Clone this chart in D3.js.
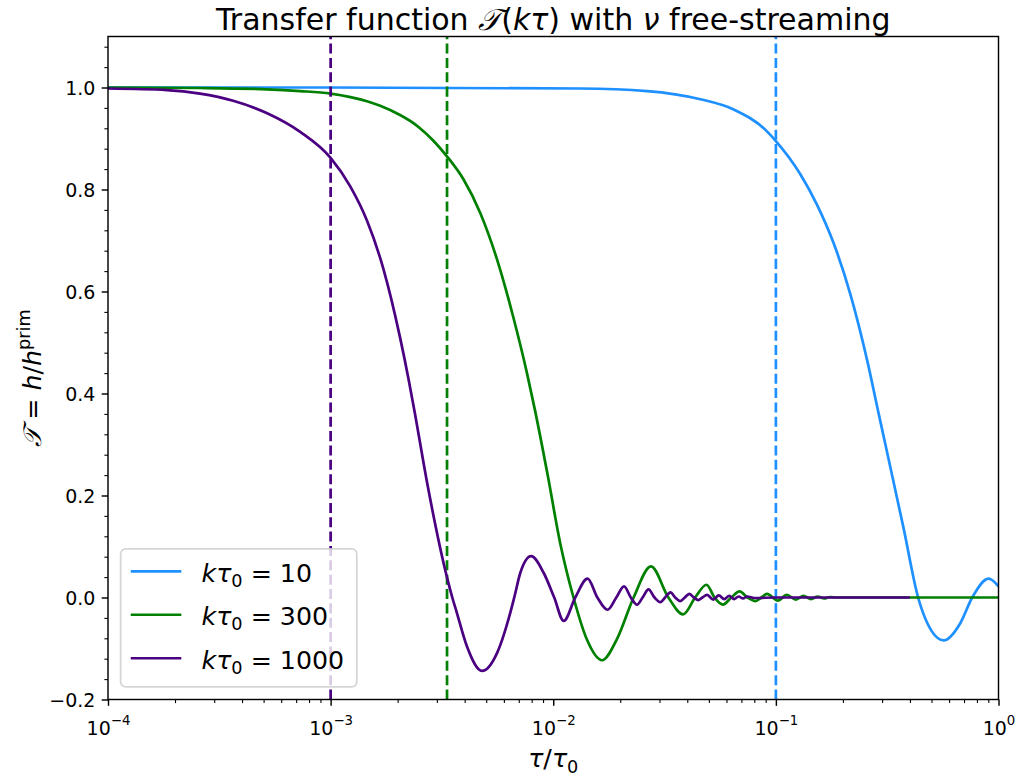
<!DOCTYPE html>
<html>
<head>
<meta charset="utf-8">
<script src="https://cdn.jsdelivr.net/npm/d3@7"></script>
<style>
  body { margin: 0; background: #fff; }
  svg { display: block; }
  text { font-family: "DejaVu Sans", sans-serif; fill: #000; }
</style>
</head>
<body>
<svg id="chart" width="1017" height="781"></svg>
<script>
// Wave numbers kτ0 of the three tensor modes and their colours
const kValues = [10, 300, 1000];
const seriesColors = ["#1e90ff", "#008000", "#4b0082"];

// kτ0 = 10 : conformal time τ/τ0 and transfer function T
const tau10 = [1e-4, 1e-3, 0.0132, 0.0264, 0.0458, 0.0646, 0.0912, 0.1, 0.1288, 0.1531,
  0.182, 0.2163, 0.2571, 0.2897, 0.3273, 0.375, 0.4355, 0.4786, 0.5675, 0.6745,
  0.7618, 0.9036, 1.0];
const T10 = [1.0, 1.0, 0.998, 0.993, 0.977, 0.957, 0.914, 0.895, 0.830, 0.770,
  0.694, 0.594, 0.465, 0.360, 0.254, 0.135, 0.0, -0.050, -0.084, -0.050,
  0.0, 0.037, 0.022];

// kτ0 = 300
const tau300 = [1e-4, 2.59e-4, 5.16e-4, 7.30e-4, 1.0e-3, 1.456e-3, 1.669e-3, 2.05e-3, 2.355e-3, 2.52e-3,
  2.888e-3, 3.33e-3, 3.95e-3, 4.70e-3, 5.59e-3, 6.63e-3, 7.62e-3, 8.30e-3, 9.44e-3, 1.074e-2,
  1.233e-2, 1.415e-2, 1.656e-2, 1.93e-2, 2.296e-2, 2.748e-2, 3.29e-2, 3.83e-2, 4.34e-2, 4.88e-2,
  5.30e-2, 5.78e-2, 6.31e-2, 6.87e-2, 7.45e-2, 8.09e-2, 8.61e-2, 9.12e-2, 0.102, 0.112,
  0.123, 0.133, 0.144, 0.154, 0.165, 0.175, 0.19, 0.4, 1.0];
const T300 = [1.0, 0.999, 0.9965, 0.993, 0.988, 0.973, 0.964, 0.946, 0.930, 0.920,
  0.896, 0.865, 0.820, 0.754, 0.663, 0.548, 0.440, 0.365, 0.240, 0.107,
  0.0, -0.082, -0.123, -0.082, 0.0, 0.061, 0.0, -0.033, 0.0, 0.025,
  0.0, -0.014, 0.0, 0.012, 0.0, -0.007, 0.0, 0.007, -0.006, 0.005,
  -0.004, 0.003, -0.003, 0.002, -0.002, 0.001, 0.0, 0.0, 0.0];

// kτ0 = 1000
const tau1000 = [1e-4, 1.84e-4, 2.59e-4, 3.65e-4, 5.16e-4, 7.30e-4, 1.0e-3, 1.225e-3, 1.456e-3, 1.727e-3,
  2.05e-3, 2.237e-3, 2.40e-3, 2.70e-3, 3.33e-3, 3.52e-3, 3.69e-3, 4.09e-3, 4.79e-3, 5.59e-3,
  6.41e-3, 6.68e-3, 7.11e-3, 7.96e-3, 9.04e-3, 1.01e-2, 1.114e-2, 1.256e-2, 1.426e-2, 1.578e-2,
  1.754e-2, 1.92e-2, 2.08e-2, 2.23e-2, 2.377e-2, 2.52e-2, 2.68e-2, 2.85e-2, 3.03e-2, 3.18e-2,
  3.36e-2, 3.53e-2, 3.72e-2, 3.90e-2, 4.08e-2, 4.28e-2, 4.49e-2, 4.68e-2, 4.91e-2, 5.23e-2,
  5.54e-2, 5.86e-2, 6.17e-2, 6.49e-2, 6.80e-2, 7.12e-2, 7.43e-2, 8.0e-2, 0.1, 0.2, 0.4];
const T1000 = [0.998, 0.995, 0.988, 0.974, 0.950, 0.913, 0.862, 0.806, 0.739, 0.644,
  0.510, 0.429, 0.357, 0.230, 0.040, 0.0, -0.030, -0.095, -0.144, -0.109,
  -0.030, 0.0, 0.048, 0.081, 0.049, 0.0, -0.046, 0.0, 0.037, 0.0,
  -0.024, 0.0, 0.022, 0.0, -0.014, 0.0, 0.016, 0.0, -0.009, 0.0,
  0.010, 0.0, -0.007, 0.0, 0.007, 0.0, -0.005, 0.0, 0.005, -0.004,
  0.004, -0.003, 0.003, -0.003, 0.002, -0.002, 0.002, -0.001, 0.0, 0.0, 0.0];

// Axis ticks
const xTickExponents = [-4, -3, -2, -1, 0];
const yTickValues = [-0.2, 0.0, 0.2, 0.4, 0.6, 0.8, 1.0];

const series = [
  { k: kValues[0], color: seriesColors[0], tau: tau10, T: T10 },
  { k: kValues[1], color: seriesColors[1], tau: tau300, T: T300 },
  { k: kValues[2], color: seriesColors[2], tau: tau1000, T: T1000 }
];

// ---- layout (1 pt = 130/72 px) ----
const pt = 130 / 72;
const plot = { left: 108, right: 998.5, top: 36.5, bottom: 699.5 };
const tickFont = 19;
const lw = 1.5 * pt;

const svg = d3.select("#chart");
svg.append("rect").attr("width", 1017).attr("height", 781).attr("fill", "#fff");

const x = d3.scaleLog().domain([1e-4, 1]).range([plot.left, plot.right]);
const y = d3.scaleLinear().domain([-0.2, 1.1]).range([plot.bottom, plot.top]);

svg.append("clipPath").attr("id", "plotClip")
  .append("rect")
  .attr("x", plot.left).attr("y", plot.top)
  .attr("width", plot.right - plot.left).attr("height", plot.bottom - plot.top);

const gPlot = svg.append("g").attr("clip-path", "url(#plotClip)");

const line = d3.line()
  .x(d => x(d[0]))
  .y(d => y(d[1]))
  .curve(d3.curveMonotoneX);

// each mode: its curve, then the horizon-crossing marker τ = 1/k
series.forEach(s => {
  const pts = s.tau.map((t, i) => [t, s.T[i]]);
  gPlot.append("path")
    .datum(pts)
    .attr("d", line)
    .attr("fill", "none")
    .attr("stroke", s.color)
    .attr("stroke-width", lw)
    .attr("stroke-linejoin", "round");
  const xv = x(1 / s.k);
  gPlot.append("line")
    .attr("x1", xv).attr("x2", xv)
    .attr("y1", plot.bottom).attr("y2", plot.top)
    .attr("stroke", s.color)
    .attr("stroke-width", lw)
    .attr("stroke-dasharray", `${3.7 * lw},${1.6 * lw}`);
});

// ---- axes ----
const majorLen = 3.5 * pt, minorLen = 2 * pt, pad = 3.5 * pt;

// x major ticks with 10^n labels
const xMajor = xTickExponents.map(e => Math.pow(10, e));
const gx = svg.append("g").attr("transform", `translate(0,${plot.bottom})`)
  .call(d3.axisBottom(x).tickValues(xMajor).tickSize(majorLen).tickFormat(() => ""));
gx.select(".domain").remove();
gx.selectAll(".tick line").attr("stroke", "#000").attr("stroke-width", 0.8 * pt);
gx.selectAll(".tick text").remove();
gx.selectAll(".tick").each(function (d, i) {
  const t = d3.select(this).append("text")
    .attr("text-anchor", "middle")
    .attr("y", 35)
    .attr("font-size", tickFont);
  t.append("tspan").text("10");
  const e = xTickExponents[i];
  t.append("tspan")
    .attr("font-size", tickFont * 0.7)
    .attr("dy", -0.5 * tickFont)
    .text(e < 0 ? "\u2212" + Math.abs(e) : String(e));
});

// x minor ticks (2..9 × decade)
const xMinor = [];
xTickExponents.slice(0, -1).forEach(e => {
  for (let m = 2; m <= 9; m++) xMinor.push(m * Math.pow(10, e));
});
const gxm = svg.append("g").attr("transform", `translate(0,${plot.bottom})`)
  .call(d3.axisBottom(x).tickValues(xMinor).tickSize(minorLen).tickFormat(() => ""));
gxm.select(".domain").remove();
gxm.selectAll(".tick line").attr("stroke", "#000").attr("stroke-width", 0.6 * pt);

// y major ticks
const gy = svg.append("g").attr("transform", `translate(${plot.left},0)`)
  .call(d3.axisLeft(y).tickValues(yTickValues).tickSize(majorLen).tickPadding(pad)
    .tickFormat(d3.format(".1f")));
gy.select(".domain").remove();
gy.selectAll(".tick line").attr("stroke", "#000").attr("stroke-width", 0.8 * pt);
gy.selectAll(".tick text")
  .attr("font-family", "DejaVu Sans, sans-serif")
  .attr("font-size", tickFont)
  .attr("fill", "#000")
  .attr("dy", "0.36em");

// y minor ticks every 0.04
const yMinor = d3.range(-5, 28).filter(i => i % 5 !== 0).map(i => +(i * 0.04).toFixed(2));
const gym = svg.append("g").attr("transform", `translate(${plot.left},0)`)
  .call(d3.axisLeft(y).tickValues(yMinor).tickSize(minorLen).tickFormat(() => ""));
gym.select(".domain").remove();
gym.selectAll(".tick line").attr("stroke", "#000").attr("stroke-width", 0.6 * pt);

// frame
svg.append("rect")
  .attr("x", plot.left).attr("y", plot.top)
  .attr("width", plot.right - plot.left).attr("height", plot.bottom - plot.top)
  .attr("fill", "none").attr("stroke", "#000").attr("stroke-width", 0.8 * pt);

// ---- title ----
const cx = (plot.left + plot.right) / 2;
const titleFont = 30;
const title = svg.append("text")
  .attr("x", cx).attr("y", 29.5)
  .attr("text-anchor", "middle")
  .attr("font-size", titleFont);
title.append("tspan").text("Transfer function ");
title.append("tspan").attr("font-style", "italic").text("\uD835\uDCAF");
title.append("tspan").text("(");
title.append("tspan").attr("font-style", "italic").text("k\u03C4");
title.append("tspan").text(") with ");
title.append("tspan").attr("font-style", "italic").text("\u03BD");
title.append("tspan").text(" free-streaming");

// ---- axis labels ----
const labelFont = 14 * pt;
const xl = svg.append("text")
  .attr("x", cx).attr("y", 767)
  .attr("text-anchor", "middle")
  .attr("font-size", labelFont);
xl.append("tspan").attr("font-style", "italic").text("\u03C4");
xl.append("tspan").text("/");
xl.append("tspan").attr("font-style", "italic").text("\u03C4");
xl.append("tspan").attr("font-size", labelFont * 0.7).attr("dy", 0.22 * labelFont).text("0");

const cy = (plot.top + plot.bottom) / 2 + 10;
const yl = svg.append("text")
  .attr("transform", `translate(41,${cy}) rotate(-90)`)
  .attr("text-anchor", "middle")
  .attr("font-size", labelFont);
yl.append("tspan").attr("font-style", "italic").text("\uD835\uDCAF");
yl.append("tspan").text(" = ");
yl.append("tspan").attr("font-style", "italic").text("h");
yl.append("tspan").text("/");
yl.append("tspan").attr("font-style", "italic").text("h");
yl.append("tspan").attr("font-size", labelFont * 0.7).attr("dy", -0.42 * labelFont).text("prim");

// ---- legend (lower left) ----
const legFont = 14 * pt;
const em = legFont;
const rowH = 1.22 * em, rowGap = 0.5 * em, border = 0.4 * em;
const legLeft = plot.left + 0.5 * em;
const legBottom = plot.bottom - 0.5 * em;
const legHeight = 2 * border + series.length * rowH + (series.length - 1) * rowGap;
const legTop = legBottom - legHeight;

const gLeg = svg.append("g");
const legRect = gLeg.append("rect")
  .attr("x", legLeft).attr("y", legTop)
  .attr("height", legHeight)
  .attr("rx", 0.2 * em).attr("ry", 0.2 * em)
  .attr("fill", "#fff").attr("fill-opacity", 0.8)
  .attr("stroke", "#ccc").attr("stroke-opacity", 0.8)
  .attr("stroke-width", 1 * pt);

let maxRight = 0;
series.forEach((s, i) => {
  const ly = legTop + border + 0.4 * rowH + i * (rowH + rowGap);
  const hx0 = legLeft + border;
  const hx1 = hx0 + 2 * em;
  gLeg.append("line")
    .attr("x1", hx0).attr("x2", hx1)
    .attr("y1", ly).attr("y2", ly)
    .attr("stroke", s.color).attr("stroke-width", lw);
  const t = gLeg.append("text")
    .attr("x", hx1 + 0.8 * em)
    .attr("y", ly + 0.42 * em)
    .attr("font-size", legFont);
  t.append("tspan").attr("font-style", "italic").text("k\u03C4");
  t.append("tspan").attr("font-size", legFont * 0.7).attr("dy", 0.2 * em).text("0");
  t.append("tspan").attr("dy", -0.2 * em).text(" = " + s.k);
  const right = hx1 + 0.8 * em + t.node().getComputedTextLength();
  maxRight = Math.max(maxRight, right);
});
legRect.attr("width", maxRight + border + 0.1 * em - legLeft);
</script>
</body>
</html>
